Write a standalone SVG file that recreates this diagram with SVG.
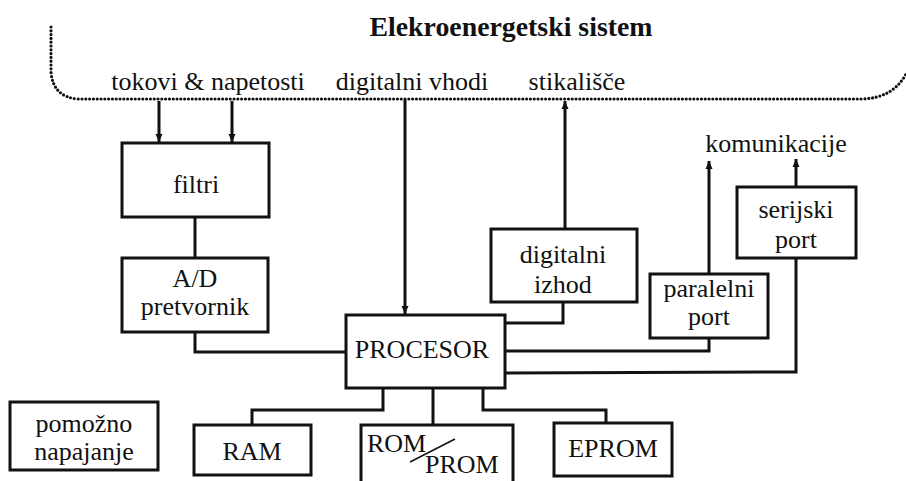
<svg xmlns="http://www.w3.org/2000/svg" width="906" height="481" viewBox="0 0 906 481">
<defs>
<style>
.box{fill:#fff;stroke:#111;stroke-width:3}
.ln{fill:none;stroke:#111;stroke-width:3}
.t{font-family:"Liberation Serif","Times New Roman",serif;font-size:26px;fill:#111;text-anchor:middle}
.dot{fill:none;stroke:#111;stroke-width:3.2;stroke-linecap:round;stroke-dasharray:0 3.8}
</style>
<marker id="ah" markerUnits="userSpaceOnUse" markerWidth="9" markerHeight="8" refX="8" refY="4" orient="auto">
<path d="M0,0.5 L8,4 L0,7.5 z" fill="#111"/>
</marker>
</defs>
<rect width="906" height="481" fill="#fff"/>
<g id="system">
<path class="dot" d="M51,27 L51,72 Q53,97 78,99 L862,99 Q893,98 906,74"/>
<text x="511" y="36" class="t" style="font-weight:bold;font-size:27px" textLength="283" lengthAdjust="spacingAndGlyphs">Elekroenergetski sistem</text>
<text x="208" y="90" class="t">tokovi &amp; napetosti</text>
<text x="412" y="90" class="t">digitalni vhodi</text>
<text x="577" y="90" class="t">stikališče</text>
<text x="776" y="152" class="t">komunikacije</text>
</g>
<g id="connectors">
<line class="ln" x1="159" y1="101" x2="159" y2="142" marker-end="url(#ah)"/>
<line class="ln" x1="232" y1="101" x2="232" y2="142" marker-end="url(#ah)"/>
<line class="ln" x1="195" y1="217" x2="195" y2="258"/>
<polyline class="ln" points="195,332 195,352 346,352"/>
<line class="ln" x1="405" y1="100" x2="405" y2="314" marker-end="url(#ah)"/>
<line class="ln" x1="565" y1="229" x2="565" y2="101" marker-end="url(#ah)"/>
<polyline class="ln" points="563,302 563,323 505,323"/>
<line class="ln" x1="709" y1="274" x2="709" y2="161" marker-end="url(#ah)"/>
<polyline class="ln" points="709,338 709,351 505,351"/>
<line class="ln" x1="796" y1="187" x2="796" y2="159" marker-end="url(#ah)"/>
<polyline class="ln" points="796,258 796,372 505,373"/>
<polyline class="ln" points="383,388 383,410 252,410 252,425"/>
<line class="ln" x1="433" y1="388" x2="433" y2="425"/>
<polyline class="ln" points="483,388 483,410 606,410 606,423"/>
</g>
<g id="filtri">
<rect class="box" x="122" y="143" width="147" height="74"/>
<text x="196" y="193" class="t">filtri</text>
</g>
<g id="ad">
<rect class="box" x="122" y="258" width="146" height="74"/>
<text x="195" y="287" class="t">A/D</text>
<text x="195" y="315" class="t">pretvornik</text>
</g>
<g id="procesor">
<rect class="box" x="346" y="315" width="159" height="73"/>
<text x="422" y="358" class="t">PROCESOR</text>
</g>
<g id="digitalni-izhod">
<rect class="box" x="491" y="229" width="146" height="73"/>
<text x="563" y="263" class="t">digitalni</text>
<text x="563" y="293" class="t">izhod</text>
</g>
<g id="paralelni-port">
<rect class="box" x="650" y="274" width="118" height="64"/>
<text x="709" y="297" class="t">paralelni</text>
<text x="709" y="325" class="t">port</text>
</g>
<g id="serijski-port">
<rect class="box" x="737" y="187" width="119" height="71"/>
<text x="796" y="218" class="t">serijski</text>
<text x="796" y="248" class="t">port</text>
</g>
<g id="pomozno-napajanje">
<rect class="box" x="10" y="402" width="148" height="68"/>
<text x="84" y="432" class="t">pomožno</text>
<text x="84" y="460" class="t">napajanje</text>
</g>
<g id="ram">
<rect class="box" x="194" y="425" width="117" height="50"/>
<text x="252" y="460" class="t">RAM</text>
</g>
<g id="rom-prom">
<rect class="box" x="361" y="425" width="152" height="62"/>
<text x="367" y="452" class="t" style="text-anchor:start">ROM</text>
<text x="425" y="473" class="t" style="text-anchor:start">PROM</text>
<line x1="410" y1="462" x2="455" y2="439" stroke="#111" stroke-width="1.5"/>
</g>
<g id="eprom">
<rect class="box" x="554" y="423" width="118" height="53"/>
<text x="613" y="457" class="t">EPROM</text>
</g>
</svg>
